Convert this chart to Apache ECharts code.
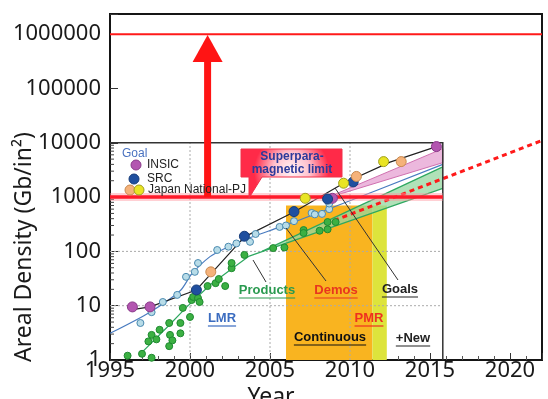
<!DOCTYPE html>
<html>
<head>
<meta charset="utf-8">
<script src="https://cdn.jsdelivr.net/npm/echarts@6/dist/echarts.min.js"></script>
<style>
html, body { margin: 0; padding: 0; background: #fff; }
#chart { width: 548px; height: 399px; }
</style>
</head>
<body>
<div id="chart"></div>
<script>
// axis ranges (year / Gb per in2)
const yearMin = 1995;
const yearMax = 2022;
const densityMin = 1;
const densityMax = 2.35e6;

// the embedded roadmap figure
const innerEndYear = 2015.8;
const innerTopDensity = 10000;
const innerGridYears = [2000, 2005, 2010];
const innerGridDensities = [10, 100, 1000];

const superparaLimit = 1000;
const targetDensity = 1000000;
const arrowYear = 2001.1;
const arrowTipDensity = 9.6e5;

// shaded periods [from, to, top]
const continuousBand = [2006.0, 2011.4, 700];
const newBand = [2011.4, 2012.3, 700];

// goal points
const insicGoal = [[1996.4, 9.5], [1997.5, 9.5], [2008.9, 950], [2015.4, 8500]];
const srcGoal = [[2000.4, 19.5], [2003.4, 190], [2006.5, 540], [2008.6, 920], [2010.2, 1900]];
const japanPeach = [[2001.3, 42], [2010.4, 2400], [2013.2, 4500]];
const japanYellow = [[2007.2, 950], [2009.6, 1800], [2012.1, 4500]];

// LMR / PMR demos (light blue) and products (green)
const demoPoints = [
  [1996.9, 4.8], [1997.6, 7.6], [1998.3, 11.7], [1999.2, 15.8], [1999.75, 34], [2000.3, 42],
  [2000.5, 61], [2001.7, 106], [2002.4, 122], [2002.9, 140], [2003.75, 150], [2004.1, 209],
  [2005.6, 282], [2006.0, 300], [2006.5, 360], [2007.6, 510], [2007.8, 480], [2008.25, 490],
  [2008.7, 600], [2008.7, 760]
];
const productPoints = [
  [1996.1, 1.2], [1997.0, 1.3], [1997.6, 1.1], [1997.4, 2.2], [1997.6, 2.9], [1997.9, 2.4],
  [1998.1, 3.6], [1998.7, 1.8], [1998.75, 2.9], [1998.9, 2.3], [1998.7, 4.8], [1999.4, 3.1],
  [1999.4, 4.8], [1999.55, 9.1], [2000.0, 6.2], [2000.1, 12.7], [2000.2, 14.5], [2000.5, 13.8],
  [2000.6, 11.7], [2001.1, 23], [2001.6, 26], [2001.8, 31], [2002.2, 23], [2002.6, 49],
  [2002.6, 61], [2003.4, 86], [2005.2, 115], [2005.9, 118], [2007.1, 247], [2007.1, 218],
  [2008.1, 240], [2008.6, 255], [2008.6, 347], [2009.1, 347]
];

// trend lines
const goalTrend = [[1996.2, 8.3], [1997.5, 9.5], [2000.4, 19.5], [2003.4, 185], [2006.5, 530], [2009.6, 1800], [2012.5, 4400], [2015.4, 8500]];
const demoTrend = [[1995, 3.1], [1997.5, 7.6], [1999.4, 19], [2000.1, 38], [2001.25, 80], [2002.3, 118], [2003.2, 155], [2005.6, 280], [2008.1, 520], [2015.8, 4000]];
const productTrend = [[1996.9, 1.3], [1998.6, 4.1], [1999.8, 9.5], [2001.25, 24], [2002.7, 50], [2003.7, 82], [2015.8, 1450]];
const productBandTop = [[2004.5, 100], [2015.8, 3600]];
const goalBand = [[2008.4, 930], [2015.8, 7800], [2015.8, 4300]];
const extrapolation = [[2009.0, 370], [2022, 11000]];

const xTickStep = 5;

const chart = echarts.init(document.getElementById('chart'));

// custom series whose children are built in data space via api.coord
function shapeSeries(z, build) {
  return {
    type: 'custom', silent: true, z: z, clip: false,
    data: [[yearMin, densityMin]],
    renderItem: (params, api) => ({ type: 'group', children: build(api) })
  };
}

function lineSeries(data, color, z, extra) {
  return Object.assign({
    type: 'line', data: data, z: z, silent: true, showSymbol: false,
    lineStyle: { color: color, width: 1.2 }
  }, extra || {});
}

function pointSeries(data, fill, border, size, z) {
  return {
    type: 'scatter', data: data, z: z, silent: true, symbol: 'circle', symbolSize: size,
    itemStyle: { color: fill, borderColor: border, borderWidth: 1, opacity: 1 }
  };
}

const ctx = document.createElement('canvas').getContext('2d');
function textWidth(t, font) { ctx.font = font; return ctx.measureText(t).width; }

// underlined bold annotation
function tag(text, cx, cy, color) {
  const font = 'bold 13px "Liberation Sans"';
  const w = textWidth(text, font);
  return [
    { type: 'text', x: cx, y: cy, z: 100, style: { text: text, font: font, fill: color, align: 'center', verticalAlign: 'middle' } },
    { type: 'line', z: 100, shape: { x1: cx - w / 2, y1: cy + 8, x2: cx + w / 2, y2: cy + 8 }, style: { stroke: color, lineWidth: 1.2 } }
  ];
}
function leader(x1, y1, x2, y2) {
  return { type: 'line', z: 100, shape: { x1: x1, y1: y1, x2: x2, y2: y2 }, style: { stroke: '#333', lineWidth: 1 } };
}
function legendText(text, x, y, color) {
  return { type: 'text', x: x, y: y, z: 100, style: { text: text, font: '12px "Liberation Sans"', fill: color, verticalAlign: 'middle' } };
}
function legendDot(x, y, fill, border) {
  return { type: 'circle', z: 100, shape: { cx: x, cy: y, r: 5 }, style: { fill: fill, stroke: border, lineWidth: 1 } };
}

const graphics = [
  { type: 'text', x: 24, y: 247, rotation: Math.PI / 2, z: 100,
    style: { text: 'Areal Density (Gb/in²)', font: '23px "Noto Sans"', fill: '#1a1a1a', align: 'center', verticalAlign: 'middle' } },
  { type: 'text', x: 271, y: 397, z: 100,
    style: { text: 'Year', font: '23px "Noto Sans"', fill: '#1a1a1a', align: 'center', verticalAlign: 'middle' } },
  legendText('Goal', 122, 154, '#4a72c0'),
  legendDot(136, 165, '#b356b0', '#8a3a8a'), legendText('INSIC', 147, 165, '#222'),
  legendDot(134, 179, '#1f4f9f', '#173d7a'), legendText('SRC', 147, 179, '#222'),
  legendDot(130, 190, '#f5b27a', '#c98a50'), legendDot(139, 190, '#e9e424', '#a0a020'),
  legendText('Japan National-PJ', 148, 190, '#222'),
  { type: 'polygon', z: 90,
    shape: { points: [[241, 149], [342, 149], [342, 177], [262, 177], [249, 198], [249, 177], [241, 177]] },
    style: {
      fill: new echarts.graphic.RadialGradient(0.5, 0.45, 0.75, [
        { offset: 0, color: '#fff4f6' }, { offset: 0.5, color: '#ffc0cc' }, { offset: 1, color: '#ff2a48' }
      ]),
      stroke: '#f03048', lineWidth: 1
    } },
  { type: 'text', x: 292, y: 157, z: 100, style: { text: 'Superpara-', font: 'bold 12px "Liberation Sans"', fill: '#2b3a9a', align: 'center', verticalAlign: 'middle' } },
  { type: 'text', x: 292, y: 170, z: 100, style: { text: 'magnetic limit', font: 'bold 12px "Liberation Sans"', fill: '#2b3a9a', align: 'center', verticalAlign: 'middle' } },
  leader(253, 260, 266, 282),
  leader(286, 228, 326, 281),
  leader(335, 188, 398, 280)
].concat(
  tag('LMR', 222, 318, '#3b6cc0'),
  tag('Products', 267, 290, '#2a9a50'),
  tag('Demos', 336, 290, '#e8361e'),
  tag('Goals', 400, 289, '#222'),
  tag('PMR', 369, 318, '#ee3020'),
  tag('Continuous', 330, 337, '#111'),
  tag('+New', 413, 338, '#222')
);

const option = {
  backgroundColor: '#fff',
  animation: false,
  grid: {
    left: 110, right: 6, top: 14, bottom: 39,
    show: true, borderColor: '#151515', borderWidth: 2, backgroundColor: '#fff',
    outerBoundsMode: 'none', containLabel: false
  },
  xAxis: {
    type: 'value', min: yearMin, max: yearMax, interval: xTickStep,
    axisLine: { show: true, lineStyle: { color: '#151515', width: 2 } },
    axisTick: { show: true, inside: true, length: 7, lineStyle: { color: '#333' } },
    minorTick: { show: true, splitNumber: 5, length: 4, lineStyle: { color: '#555' } },
    splitLine: { show: false },
    axisLabel: {
      margin: 0, color: '#1a1a1a', fontSize: 22, fontFamily: 'Noto Sans', hideOverlap: false,
      formatter: v => (Math.round(v) % xTickStep === 0 ? String(Math.round(v)) : '')
    }
  },
  yAxis: {
    type: 'log', logBase: 10, min: densityMin, max: densityMax,
    axisLine: { show: true, lineStyle: { color: '#151515', width: 2 } },
    axisTick: { show: true, inside: true, length: 8, lineStyle: { color: '#333' } },
    splitLine: { show: false },
    axisLabel: {
      margin: 9, color: '#1a1a1a', fontSize: 22, fontFamily: 'Noto Sans', hideOverlap: false,
      formatter: v => {
        const e = Math.log10(v);
        return Math.abs(e - Math.round(e)) < 1e-6 ? String(Math.round(v)) : '';
      }
    }
  },
  graphic: graphics,
  series: [
    // Continuous / +New shaded periods
    shapeSeries(1, api => [continuousBand, newBand].map((b, i) => {
      const p0 = api.coord([b[0], b[2]]);
      const p1 = api.coord([b[1], densityMin]);
      return { type: 'rect', shape: { x: p0[0], y: p0[1], width: p1[0] - p0[0], height: p1[1] - p0[1] },
        style: { fill: i === 0 ? '#f9b420' : '#dde43c' } };
    })),
    // inner figure grid, box and minor ticks
    shapeSeries(2, api => {
      const out = [];
      innerGridYears.forEach(y => {
        const a = api.coord([y, densityMin]), b = api.coord([y, innerTopDensity]);
        out.push({ type: 'line', shape: { x1: a[0], y1: a[1], x2: b[0], y2: b[1] }, style: { stroke: '#aaa', lineWidth: 1, lineDash: [2, 2] } });
      });
      innerGridDensities.forEach(d => {
        const a = api.coord([yearMin, d]), b = api.coord([innerEndYear, d]);
        out.push({ type: 'line', shape: { x1: a[0], y1: a[1], x2: b[0], y2: b[1] }, style: { stroke: '#aaa', lineWidth: 1, lineDash: [2, 2] } });
      });
      for (let dec = 1; dec < innerTopDensity; dec *= 10) {
        for (let k = 2; k <= 9; k++) {
          const p = api.coord([yearMin, k * dec]);
          out.push({ type: 'line', shape: { x1: p[0], y1: p[1], x2: p[0] + 4, y2: p[1] }, style: { stroke: '#444', lineWidth: 1 } });
        }
      }
      return out;
    }),
    // INSIC goal band and products band
    shapeSeries(3, api => [
      { type: 'polygon', shape: { points: goalBand.map(p => api.coord(p)) },
        style: { fill: 'rgba(230,160,210,0.75)', stroke: '#d070b0', lineWidth: 1 } },
      { type: 'polygon', shape: { points: productTrend.slice(-2).concat(productBandTop.slice().reverse()).map(p => api.coord(p)) },
        style: { fill: 'rgba(150,215,160,0.75)', stroke: 'none' } }
    ]),
    lineSeries(demoTrend, '#4a7cc0', 4, { smooth: 0.25 }),
    lineSeries(productTrend, '#2ea860', 4),
    lineSeries(productBandTop, '#2ea860', 4),
    lineSeries(goalTrend, '#222', 4),
    lineSeries(extrapolation, '#ff1a1a', 5, { lineStyle: { color: '#ff1a1a', width: 3, type: [5, 4] } }),
    // inner box border, limit band and target line
    shapeSeries(6, api => {
      const tl = api.coord([yearMin, innerTopDensity]);
      const tr = api.coord([innerEndYear, innerTopDensity]);
      const br = api.coord([innerEndYear, densityMin]);
      const l0 = api.coord([yearMin, superparaLimit]);
      const l1 = api.coord([innerEndYear, superparaLimit]);
      const t0 = api.coord([yearMin, targetDensity]);
      const t1 = api.coord([yearMax, targetDensity]);
      return [
        { type: 'polyline', shape: { points: [tl, tr, br] }, style: { stroke: '#333', lineWidth: 1.5, fill: 'none' } },
        { type: 'line', shape: { x1: l0[0], y1: l0[1], x2: l1[0], y2: l1[1] }, style: { stroke: 'rgba(255,150,160,0.45)', lineWidth: 8 } },
        { type: 'line', shape: { x1: l0[0], y1: l0[1], x2: l1[0], y2: l1[1] }, style: { stroke: '#ff1a2a', lineWidth: 3.5 } },
        { type: 'line', shape: { x1: t0[0], y1: t0[1], x2: t1[0], y2: t1[1] }, style: { stroke: '#ff1a1a', lineWidth: 2 } }
      ];
    }),
    pointSeries(productPoints, '#3cb043', '#1e8a30', 7, 7),
    pointSeries(demoPoints, '#b8dce8', '#4a8ab0', 7, 7),
    pointSeries(insicGoal, '#b356b0', '#8a3a8a', 10, 8),
    pointSeries(srcGoal, '#1f4f9f', '#173d7a', 10, 8),
    pointSeries(japanPeach, '#f5b27a', '#c98a50', 10, 8),
    pointSeries(japanYellow, '#e9e424', '#a0a020', 10, 8),
    // red arrow from the limit towards the target
    shapeSeries(9, api => {
      const base = api.coord([arrowYear, superparaLimit]);
      const tip = api.coord([arrowYear, arrowTipDensity]);
      const headLen = 27, headHalf = 15;
      return [
        { type: 'rect', shape: { x: base[0] - 3.5, y: tip[1] + headLen - 1, width: 7, height: base[1] - tip[1] - headLen + 1 }, style: { fill: '#ff1414' } },
        { type: 'polygon', shape: { points: [[tip[0], tip[1]], [tip[0] - headHalf, tip[1] + headLen], [tip[0] + headHalf, tip[1] + headLen]] }, style: { fill: '#ff1414' } }
      ];
    })
  ]
};

chart.setOption(option);
</script>
</body>
</html>
